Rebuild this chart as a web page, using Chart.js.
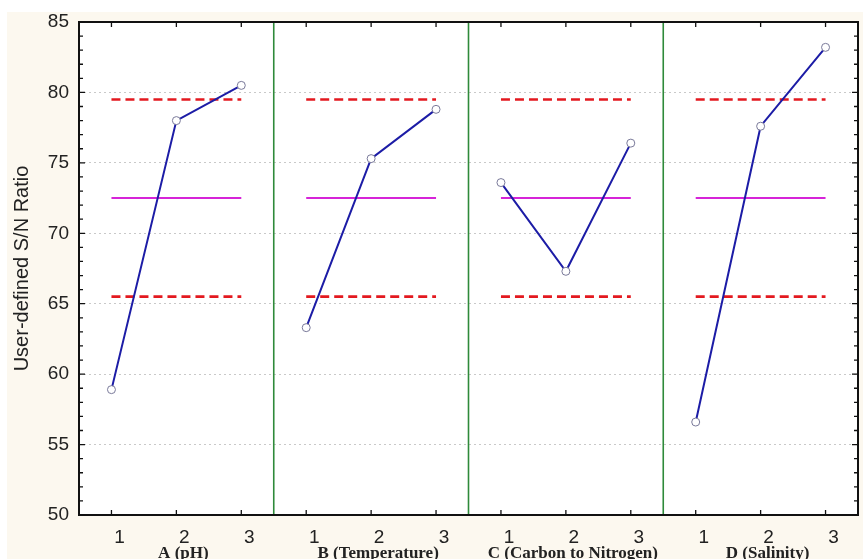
<!DOCTYPE html>
<html>
<head>
<meta charset="utf-8">
<script src="https://cdn.jsdelivr.net/npm/chart.js@4.4.1/dist/chart.umd.min.js"></script>
<style>
  html, body { margin: 0; padding: 0; background: #fff; }
  #wrap { width: 863px; height: 559px; }
</style>
</head>
<body>
<div id="wrap"><canvas id="chart" width="863" height="559"></canvas></div>
<script>
// factors and levels
const factors = ["A (pH)", "B (Temperature)", "C (Carbon to Nitrogen)", "D (Salinity)"];
const levels = [1, 2, 3];

// S/N ratio per level
const snA = [58.9, 78.0, 80.5];
const snB = [63.3, 75.3, 78.8];
const snC = [73.6, 67.3, 76.4];
const snD = [56.6, 77.6, 83.2];

// mean and limits (same for every factor)
const meanSN = 72.5;
const upperLimit = 79.5;
const lowerLimit = 65.5;

const yTicks = [50, 55, 60, 65, 70, 75, 80, 85];

const allSN = [snA, snB, snC, snD];
const perPanel = levels.length;

// x position of a level inside panel k
function xOf(k, lvl) { return k * perPanel + lvl; }

function refLine(val) {
  let pts = [];
  factors.forEach((f, k) => {
    pts.push({ x: xOf(k, levels[0]), y: val });
    pts.push({ x: xOf(k, levels[levels.length - 1]), y: val });
    pts.push({ x: xOf(k, levels[levels.length - 1]) + 0.5, y: null });
  });
  return pts;
}

let datasets = [];

datasets.push({
  label: "Upper", data: refLine(upperLimit),
  borderColor: "#e3191f", borderWidth: 2.6, borderDash: [9, 5],
  pointRadius: 0, spanGaps: false, order: 3
});
datasets.push({
  label: "Lower", data: refLine(lowerLimit),
  borderColor: "#e3191f", borderWidth: 2.6, borderDash: [9, 5],
  pointRadius: 0, spanGaps: false, order: 3
});
datasets.push({
  label: "Mean", data: refLine(meanSN),
  borderColor: "#d624d8", borderWidth: 2,
  pointRadius: 0, spanGaps: false, order: 2
});

allSN.forEach((vals, k) => {
  datasets.push({
    label: factors[k],
    data: vals.map((v, i) => ({ x: xOf(k, levels[i]), y: v })),
    borderColor: "#1c1ca6",
    borderWidth: 2,
    pointRadius: 4,
    pointBackgroundColor: "#ffffff",
    pointBorderColor: "#7a7a9a",
    pointBorderWidth: 1,
    order: 1
  });
});

const panelPlugin = {
  id: "panels",
  beforeDraw(chart) {
    const { ctx, chartArea: a } = chart;
    ctx.save();
    ctx.fillStyle = "#ffffff";
    ctx.fillRect(0, 0, chart.width, chart.height);
    ctx.fillStyle = "#fcf8ef";
    ctx.fillRect(7, 12, chart.width - 7, chart.height - 12);
    ctx.fillStyle = "#ffffff";
    ctx.fillRect(a.left, a.top, a.right - a.left, a.bottom - a.top);
    ctx.restore();
  },
  beforeDatasetsDraw(chart) {
    const { ctx, chartArea: a, scales: { x } } = chart;
    ctx.save();
    ctx.strokeStyle = "#2f8a3a";
    ctx.lineWidth = 1.6;
    for (let k = 1; k < factors.length; k++) {
      const px = x.getPixelForValue(k * perPanel + 0.5);
      ctx.beginPath();
      ctx.moveTo(px, a.top);
      ctx.lineTo(px, a.bottom);
      ctx.stroke();
    }
    ctx.restore();
  },
  afterDraw(chart) {
    const { ctx, chartArea: a, scales: { x, y } } = chart;
    ctx.save();
    // frame
    ctx.strokeStyle = "#111";
    ctx.lineWidth = 2;
    ctx.strokeRect(a.left, a.top, a.right - a.left, a.bottom - a.top);

    // y ticks, major and minor, both sides, pointing inward
    ctx.lineWidth = 1.3;
    for (let v = yTicks[0]; v <= yTicks[yTicks.length - 1]; v++) {
      const py = y.getPixelForValue(v);
      const len = v % 5 === 0 ? 6 : 4;
      ctx.beginPath();
      ctx.moveTo(a.left, py); ctx.lineTo(a.left + len, py);
      ctx.moveTo(a.right, py); ctx.lineTo(a.right - len, py);
      ctx.stroke();
    }

    // x ticks, labels and factor names
    ctx.fillStyle = "#222";
    factors.forEach((f, k) => {
      levels.forEach(lvl => {
        const px = x.getPixelForValue(xOf(k, lvl));
        ctx.beginPath();
        ctx.moveTo(px, a.top); ctx.lineTo(px, a.top + 5);
        ctx.moveTo(px, a.bottom); ctx.lineTo(px, a.bottom - 5);
        ctx.stroke();
        ctx.font = "19px 'Liberation Sans', Arial, sans-serif";
        ctx.textAlign = "center";
        ctx.textBaseline = "alphabetic";
        ctx.fillText(String(lvl), px + 8, a.bottom + 28);
      });
      const mid = x.getPixelForValue(xOf(k, levels[1]));
      ctx.font = "bold 17px 'Liberation Serif', 'Times New Roman', serif";
      ctx.textAlign = "center";
      ctx.fillText(f, mid + 7, a.bottom + 43);
    });
    ctx.restore();
  }
};

const ctx = document.getElementById("chart").getContext("2d");
new Chart(ctx, {
  type: "line",
  data: { datasets: datasets },
  options: {
    responsive: false,
    animation: false,
    layout: { padding: { top: 22, right: 3, left: 0, bottom: 0 } },
    plugins: { legend: { display: false }, tooltip: { enabled: false } },
    scales: {
      x: {
        type: "linear",
        min: 0.5,
        max: factors.length * perPanel + 0.5,
        ticks: { display: false },
        grid: { display: false },
        border: { display: false },
        afterFit: s => { s.height = 44; }
      },
      y: {
        min: yTicks[0],
        max: yTicks[yTicks.length - 1],
        afterBuildTicks: s => { s.ticks = yTicks.map(v => ({ value: v })); },
        ticks: {
          color: "#222",
          padding: 10,
          font: { family: "'Liberation Sans', Arial, sans-serif", size: 19 }
        },
        grid: { color: "#c9c9c9", lineWidth: 1, drawTicks: false },
        border: { display: false, dash: [2, 3] },
        title: {
          display: true,
          text: "User-defined S/N Ratio",
          color: "#222",
          font: { family: "'Liberation Sans', Arial, sans-serif", size: 20 },
          padding: { top: 10, bottom: 0 }
        },
        afterFit: s => { s.width = 79; }
      }
    }
  },
  plugins: [panelPlugin]
});
</script>
</body>
</html>
